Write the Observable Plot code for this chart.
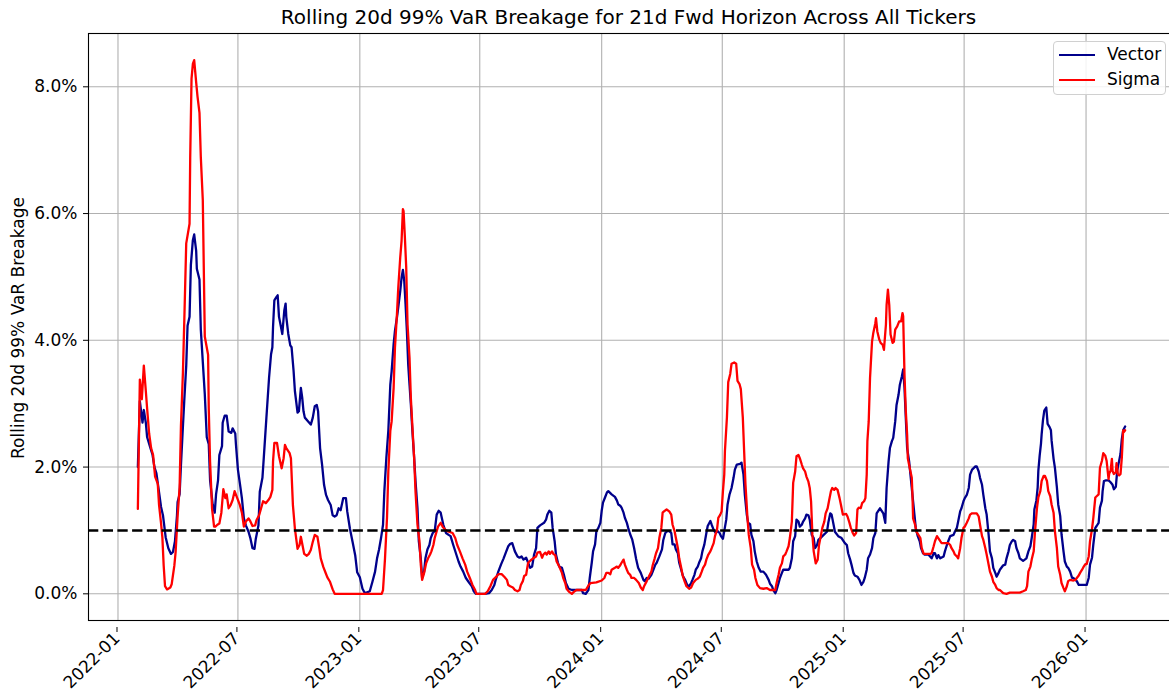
<!DOCTYPE html>
<html>
<head>
<meta charset="utf-8">
<script src="https://cdn.jsdelivr.net/npm/d3@7"></script>
<script src="https://cdn.jsdelivr.net/npm/@observablehq/plot@0.6"></script>
<style>
  body { margin: 0; background: #fff; font-family: "DejaVu Sans", sans-serif; }
  #wrap { position: relative; width: 1169px; height: 694px; overflow: hidden; background: #fff; }
  #title { position: absolute; left: 88px; width: 1081px; top: 5px; text-align: center; font-size: 20px; line-height: 24px; color: #000; white-space: nowrap; }
  #chart { position: absolute; left: 0; top: 28px; width: 1176px; height: 666px; }
  #chart svg { max-width: none !important; display: block; }
  #ylabel { position: absolute; left: -182px; top: 318px; width: 400px; height: 20px; line-height: 20px; text-align: center; font-size: 17px; color: #000; transform: rotate(-90deg); transform-origin: 200px 10px; white-space: nowrap; }
  #legend { position: absolute; left: 1053px; top: 41px; width: 111px; height: 52px; border: 1px solid #d0d0d0; border-radius: 4px; background: rgba(255,255,255,0.85); font-size: 17px; color: #000; }
  .swatch { position: absolute; left: 5px; width: 36px; height: 0; border-top: 2.2px solid; }
  .lab { position: absolute; left: 53px; height: 20px; line-height: 20px; white-space: nowrap; }
</style>
</head>
<body>
<div id="wrap">
  <div id="title"></div>
  <div id="chart"></div>
  <div id="ylabel"></div>
  <div id="legend"></div>
</div>
<script>
const titleText = "Rolling 20d 99% VaR Breakage for 21d Fwd Horizon Across All Tickers";
const yLabelText = "Rolling 20d 99% VaR Breakage";
const seriesNames = ["Vector", "Sigma"];
const seriesColors = ["#00008b", "#ff0000"];
const xTickLabels = ["2022-01", "2022-07", "2023-01", "2023-07", "2024-01", "2024-07", "2025-01", "2025-07", "2026-01"];
const yTickValues = [0, 2, 4, 6, 8];
const thresholdValue = 1;

// Vector: [date, breakage %]
const vectorSeries = [
["2022-01-31",2.00],["2022-02-03",3.04],["2022-02-07",2.70],["2022-02-09",2.90],["2022-02-12",2.70],["2022-02-14",2.47],["2022-02-19",2.30],["2022-02-22",2.20],["2022-02-25",2.00],["2022-02-28",1.90],
["2022-03-04",1.60],["2022-03-07",1.37],["2022-03-10",1.23],["2022-03-12",1.06],["2022-03-14",0.89],["2022-03-18",0.72],["2022-03-22",0.63],["2022-03-25",0.66],["2022-03-28",0.83],["2022-03-31",1.23],
["2022-04-01",1.45],["2022-04-04",1.57],["2022-04-06",2.02],["2022-04-09",2.64],["2022-04-11",3.04],["2022-04-14",3.60],["2022-04-16",4.23],["2022-04-19",4.37],["2022-04-21",5.19],["2022-04-24",5.58],
["2022-04-26",5.67],["2022-04-29",5.41],["2022-04-30",5.13],["2022-05-04",4.96],["2022-05-06",4.17],["2022-05-09",3.66],["2022-05-12",3.15],["2022-05-15",2.47],["2022-05-18",2.36],["2022-05-20",1.79],
["2022-05-24",1.40],["2022-05-27",1.28],["2022-05-29",1.57],["2022-06-01",1.79],["2022-06-03",2.19],["2022-06-07",2.33],["2022-06-08",2.70],["2022-06-11",2.81],["2022-06-14",2.81],["2022-06-17",2.56],
["2022-06-21",2.54],["2022-06-23",2.61],["2022-06-27",2.53],["2022-06-28",2.36],["2022-07-01",1.96],["2022-07-04",1.74],["2022-07-07",1.51],["2022-07-10",1.19],["2022-07-13",1.08],["2022-07-17",0.98],
["2022-07-20",0.87],["2022-07-23",0.72],["2022-07-26",0.71],["2022-07-28",0.87],["2022-08-01",1.08],["2022-08-03",1.61],["2022-08-07",1.83],["2022-08-09",2.14],["2022-08-11",2.46],["2022-08-13",2.78],
["2022-08-17",3.41],["2022-08-20",3.78],["2022-08-22",3.89],["2022-08-23",4.21],["2022-08-25",4.63],["2022-08-28",4.68],["2022-08-30",4.71],["2022-09-01",4.37],["2022-09-04",4.21],["2022-09-06",4.10],
["2022-09-09",4.47],["2022-09-11",4.58],["2022-09-12",4.37],["2022-09-15",4.10],["2022-09-18",3.92],["2022-09-20",3.89],["2022-09-23",3.52],["2022-09-25",3.20],["2022-09-29",2.86],["2022-10-01",2.88],
["2022-10-04",3.25],["2022-10-06",3.10],["2022-10-08",2.88],["2022-10-10",2.78],["2022-10-15",2.72],["2022-10-19",2.67],["2022-10-22",2.78],["2022-10-25",2.96],["2022-10-28",2.98],["2022-10-30",2.88],
["2022-11-02",2.30],["2022-11-05",2.04],["2022-11-08",1.72],["2022-11-11",1.56],["2022-11-14",1.48],["2022-11-18",1.40],["2022-11-21",1.24],["2022-11-24",1.22],["2022-11-27",1.24],["2022-11-30",1.35],
["2022-12-03",1.32],["2022-12-07",1.51],["2022-12-11",1.51],["2022-12-13",1.30],["2022-12-17",1.03],["2022-12-21",0.82],["2022-12-25",0.61],["2022-12-28",0.34],["2023-01-01",0.26],["2023-01-05",0.08],
["2023-01-08",0.02],["2023-01-11",0.02],["2023-01-16",0.04],["2023-01-20",0.19],["2023-01-24",0.35],["2023-01-27",0.56],["2023-01-30",0.70],["2023-02-02",0.88],["2023-02-05",1.09],["2023-02-07",1.62],
["2023-02-10",2.14],["2023-02-13",2.57],["2023-02-16",3.30],["2023-02-18",3.51],["2023-02-21",3.94],["2023-02-23",4.15],["2023-02-26",4.36],["2023-02-28",4.52],["2023-03-03",4.78],["2023-03-05",4.99],
["2023-03-07",5.11],["2023-03-09",4.94],["2023-03-11",4.57],["2023-03-13",4.15],["2023-03-15",3.62],["2023-03-17",3.30],["2023-03-19",2.99],["2023-03-21",2.62],["2023-03-24",2.14],["2023-03-26",1.78],
["2023-03-29",1.35],["2023-03-31",0.83],["2023-04-03",0.56],["2023-04-05",0.25],["2023-04-08",0.35],["2023-04-10",0.56],["2023-04-13",0.70],["2023-04-16",0.77],["2023-04-18",0.88],["2023-04-21",0.96],
["2023-04-24",0.99],["2023-04-27",1.25],["2023-04-30",1.31],["2023-05-03",1.28],["2023-05-07",1.09],["2023-05-11",0.96],["2023-05-15",0.93],["2023-05-18",0.91],["2023-05-22",0.77],["2023-05-26",0.64],
["2023-05-30",0.51],["2023-06-02",0.43],["2023-06-06",0.35],["2023-06-10",0.25],["2023-06-14",0.19],["2023-06-19",0.12],["2023-06-22",0.04],["2023-06-25",0.00],["2023-07-09",0.00],["2023-07-15",0.01],
["2023-07-19",0.06],["2023-07-23",0.14],["2023-07-25",0.22],["2023-07-29",0.35],["2023-08-02",0.46],["2023-08-06",0.56],["2023-08-10",0.67],["2023-08-13",0.75],["2023-08-16",0.79],["2023-08-19",0.80],
["2023-08-23",0.67],["2023-08-27",0.59],["2023-08-30",0.57],["2023-09-02",0.59],["2023-09-05",0.54],["2023-09-09",0.57],["2023-09-12",0.49],["2023-09-15",0.41],["2023-09-18",0.43],["2023-09-21",0.62],
["2023-09-24",0.72],["2023-09-26",1.04],["2023-09-30",1.08],["2023-10-06",1.12],["2023-10-09",1.17],["2023-10-11",1.25],["2023-10-14",1.31],["2023-10-17",1.28],["2023-10-19",1.04],["2023-10-22",0.83],
["2023-10-24",0.62],["2023-10-27",0.49],["2023-10-29",0.43],["2023-11-02",0.41],["2023-11-05",0.30],["2023-11-08",0.17],["2023-11-12",0.08],["2023-11-17",0.06],["2023-12-02",0.06],["2023-12-04",0.01],
["2023-12-08",0.00],["2023-12-12",0.06],["2023-12-14",0.25],["2023-12-17",0.49],["2023-12-19",0.67],["2023-12-22",0.78],["2023-12-24",0.99],["2023-12-27",1.04],["2023-12-30",1.12],["2024-01-01",1.31],
["2024-01-03",1.44],["2024-01-06",1.52],["2024-01-09",1.60],["2024-01-11",1.62],["2024-01-16",1.57],["2024-01-21",1.53],["2024-01-24",1.47],["2024-01-26",1.41],["2024-01-29",1.39],["2024-01-31",1.36],
["2024-02-03",1.28],["2024-02-05",1.20],["2024-02-08",1.12],["2024-02-10",1.04],["2024-02-13",0.94],["2024-02-16",0.86],["2024-02-19",0.72],["2024-02-22",0.55],["2024-02-25",0.41],["2024-02-29",0.33],
["2024-03-04",0.22],["2024-03-06",0.20],["2024-03-09",0.25],["2024-03-12",0.24],["2024-03-16",0.30],["2024-03-18",0.35],["2024-03-22",0.46],["2024-03-24",0.49],["2024-03-28",0.59],["2024-04-01",0.70],
["2024-04-03",0.85],["2024-04-06",0.96],["2024-04-09",0.99],["2024-04-12",0.99],["2024-04-15",0.96],["2024-04-17",0.78],["2024-04-20",0.78],["2024-04-22",0.70],["2024-04-25",0.64],["2024-04-27",0.49],
["2024-04-30",0.38],["2024-05-03",0.27],["2024-05-06",0.22],["2024-05-09",0.14],["2024-05-12",0.12],["2024-05-15",0.17],["2024-05-17",0.22],["2024-05-20",0.30],["2024-05-22",0.38],["2024-05-25",0.43],
["2024-05-27",0.49],["2024-05-30",0.56],["2024-06-01",0.67],["2024-06-04",0.78],["2024-06-07",0.96],["2024-06-09",1.07],["2024-06-13",1.15],["2024-06-15",1.09],["2024-06-18",1.01],["2024-06-21",0.96],
["2024-06-24",0.99],["2024-06-27",0.96],["2024-06-29",0.91],["2024-07-02",0.87],["2024-07-04",0.99],["2024-07-07",1.17],["2024-07-09",1.41],["2024-07-12",1.57],["2024-07-15",1.67],["2024-07-18",1.83],
["2024-07-20",1.96],["2024-07-23",2.04],["2024-07-28",2.05],["2024-07-30",2.07],["2024-08-02",1.88],["2024-08-04",1.57],["2024-08-07",1.25],["2024-08-09",1.12],["2024-08-12",1.10],["2024-08-14",0.93],
["2024-08-17",0.83],["2024-08-19",0.67],["2024-08-22",0.51],["2024-08-25",0.41],["2024-08-28",0.35],["2024-09-01",0.35],["2024-09-05",0.30],["2024-09-09",0.22],["2024-09-11",0.16],["2024-09-14",0.12],
["2024-09-16",0.06],["2024-09-19",0.01],["2024-09-21",0.06],["2024-09-24",0.17],["2024-09-26",0.25],["2024-09-29",0.33],["2024-10-01",0.38],["2024-10-09",0.38],["2024-10-11",0.41],["2024-10-14",0.56],
["2024-10-16",0.83],["2024-10-19",0.91],["2024-10-21",1.17],["2024-10-24",1.14],["2024-10-26",1.06],["2024-10-29",1.09],["2024-10-31",1.14],["2024-11-03",1.19],["2024-11-05",1.25],["2024-11-08",1.24],
["2024-11-10",1.17],["2024-11-13",0.93],["2024-11-16",0.88],["2024-11-18",0.72],["2024-11-21",0.77],["2024-11-23",0.85],["2024-11-26",0.88],["2024-12-01",0.93],["2024-12-06",0.98],["2024-12-08",1.12],
["2024-12-11",1.27],["2024-12-13",1.25],["2024-12-16",1.09],["2024-12-18",0.98],["2024-12-23",0.91],["2024-12-28",0.88],["2024-12-31",0.83],["2025-01-02",0.80],["2025-01-05",0.77],["2025-01-07",0.64],
["2025-01-10",0.54],["2025-01-12",0.46],["2025-01-15",0.33],["2025-01-17",0.29],["2025-01-21",0.27],["2025-01-24",0.22],["2025-01-27",0.14],["2025-01-30",0.19],["2025-02-01",0.25],["2025-02-04",0.38],
["2025-02-06",0.56],["2025-02-09",0.62],["2025-02-12",0.72],["2025-02-14",0.88],["2025-02-17",0.96],["2025-02-19",1.27],["2025-02-24",1.35],["2025-03-01",1.27],["2025-03-04",1.12],["2025-03-06",1.67],
["2025-03-09",2.09],["2025-03-11",2.30],["2025-03-14",2.41],["2025-03-16",2.46],["2025-03-19",2.72],["2025-03-21",2.98],["2025-03-24",3.14],["2025-03-26",3.30],["2025-03-29",3.43],["2025-03-31",3.54],
["2025-04-02",3.25],["2025-04-04",2.77],["2025-04-06",2.30],["2025-04-09",2.09],["2025-04-11",1.88],["2025-04-14",1.56],["2025-04-17",1.25],["2025-04-19",1.04],["2025-04-22",0.91],["2025-04-25",0.83],
["2025-04-27",0.72],["2025-04-30",0.64],["2025-05-02",0.62],["2025-05-08",0.62],["2025-05-13",0.56],["2025-05-16",0.64],["2025-05-18",0.64],["2025-05-21",0.56],["2025-05-23",0.61],["2025-05-26",0.56],
["2025-05-31",0.59],["2025-06-02",0.67],["2025-06-05",0.77],["2025-06-07",0.83],["2025-06-10",0.91],["2025-06-15",0.93],["2025-06-17",0.98],["2025-06-20",1.04],["2025-06-22",1.14],["2025-06-25",1.30],
["2025-06-27",1.35],["2025-06-30",1.46],["2025-07-02",1.51],["2025-07-05",1.56],["2025-07-08",1.67],["2025-07-10",1.88],["2025-07-13",1.96],["2025-07-15",1.98],["2025-07-18",2.01],["2025-07-20",2.01],
["2025-07-23",1.93],["2025-07-25",1.83],["2025-07-28",1.72],["2025-07-30",1.56],["2025-08-02",1.35],["2025-08-04",1.25],["2025-08-07",0.93],["2025-08-09",0.67],["2025-08-12",0.56],["2025-08-14",0.41],
["2025-08-17",0.33],["2025-08-19",0.27],["2025-08-22",0.33],["2025-08-24",0.38],["2025-08-29",0.45],["2025-09-01",0.46],["2025-09-03",0.56],["2025-09-06",0.67],["2025-09-08",0.77],["2025-09-11",0.83],
["2025-09-13",0.85],["2025-09-16",0.83],["2025-09-18",0.72],["2025-09-21",0.64],["2025-09-23",0.56],["2025-09-28",0.52],["2025-10-03",0.56],["2025-10-06",0.67],["2025-10-09",0.75],["2025-10-11",0.88],
["2025-10-14",1.10],["2025-10-15",1.33],["2025-10-18",1.47],["2025-10-20",1.68],["2025-10-21",1.94],["2025-10-23",2.18],["2025-10-25",2.37],["2025-10-26",2.52],["2025-10-28",2.74],["2025-10-30",2.89],
["2025-11-02",2.94],["2025-11-04",2.68],["2025-11-07",2.63],["2025-11-09",2.58],["2025-11-10",2.42],["2025-11-13",2.13],["2025-11-15",1.99],["2025-11-18",1.68],["2025-11-20",1.41],["2025-11-23",1.23],
["2025-11-25",0.94],["2025-11-28",0.67],["2025-11-30",0.51],["2025-12-03",0.43],["2025-12-05",0.41],["2025-12-08",0.35],["2025-12-11",0.25],["2025-12-13",0.25],["2025-12-16",0.22],["2025-12-18",0.20],
["2025-12-21",0.14],["2026-01-02",0.14],["2026-01-05",0.25],["2026-01-07",0.46],["2026-01-10",0.57],["2026-01-12",0.78],["2026-01-15",1.04],["2026-01-17",1.07],["2026-01-20",1.12],["2026-01-22",1.36],
["2026-01-25",1.47],["2026-01-26",1.62],["2026-01-28",1.78],["2026-01-31",1.79],["2026-02-04",1.79],["2026-02-07",1.76],["2026-02-10",1.72],["2026-02-12",1.65],["2026-02-15",1.69],["2026-02-17",1.94],
["2026-02-19",2.05],["2026-02-20",2.10],["2026-02-22",2.21],["2026-02-24",2.44],["2026-02-26",2.58],["2026-03-01",2.64]
];

// Sigma: [date, breakage %]
const sigmaSeries = [
["2022-01-31",1.34],["2022-02-03",3.38],["2022-02-06",3.07],["2022-02-09",3.60],["2022-02-12",3.20],["2022-02-14",2.92],["2022-02-17",2.53],["2022-02-20",2.30],["2022-02-23",2.19],["2022-02-26",1.85],
["2022-03-02",1.74],["2022-03-04",1.40],["2022-03-07",1.11],["2022-03-09",0.89],["2022-03-11",0.44],["2022-03-13",0.12],["2022-03-16",0.07],["2022-03-21",0.10],["2022-03-23",0.15],["2022-03-27",0.44],
["2022-03-29",0.66],["2022-04-01",1.23],["2022-04-04",1.68],["2022-04-06",2.64],["2022-04-09",3.49],["2022-04-11",4.28],["2022-04-14",5.53],["2022-04-19",5.84],["2022-04-20",6.89],["2022-04-22",8.13],
["2022-04-24",8.36],["2022-04-26",8.42],["2022-04-29",8.07],["2022-05-01",7.85],["2022-05-04",7.59],["2022-05-06",6.89],["2022-05-09",6.21],["2022-05-12",4.06],["2022-05-17",3.77],["2022-05-18",2.92],
["2022-05-20",2.08],["2022-05-23",1.34],["2022-05-26",1.06],["2022-05-28",1.06],["2022-05-31",1.09],["2022-06-03",1.11],["2022-06-06",1.28],["2022-06-09",1.65],["2022-06-12",1.51],["2022-06-14",1.57],
["2022-06-17",1.35],["2022-06-20",1.40],["2022-06-23",1.48],["2022-06-26",1.62],["2022-06-30",1.51],["2022-07-04",1.40],["2022-07-07",1.28],["2022-07-10",1.06],["2022-07-13",1.14],["2022-07-17",1.19],
["2022-07-19",1.16],["2022-07-23",1.07],["2022-07-27",1.08],["2022-07-29",1.16],["2022-08-02",1.24],["2022-08-05",1.35],["2022-08-08",1.46],["2022-08-12",1.43],["2022-08-16",1.48],["2022-08-19",1.53],
["2022-08-22",1.64],["2022-08-23",2.09],["2022-08-25",2.38],["2022-08-29",2.38],["2022-09-01",2.17],["2022-09-05",1.98],["2022-09-08",2.14],["2022-09-10",2.35],["2022-09-12",2.30],["2022-09-17",2.22],
["2022-09-19",2.14],["2022-09-22",1.40],["2022-09-25",1.03],["2022-09-29",0.71],["2022-10-02",0.77],["2022-10-04",0.90],["2022-10-07",0.74],["2022-10-09",0.63],["2022-10-13",0.60],["2022-10-16",0.63],
["2022-10-19",0.69],["2022-10-22",0.82],["2022-10-25",0.93],["2022-10-29",0.90],["2022-11-01",0.71],["2022-11-03",0.56],["2022-11-07",0.42],["2022-11-10",0.34],["2022-11-13",0.26],["2022-11-17",0.19],
["2022-11-21",0.07],["2022-11-24",0.00],["2023-02-03",0.00],["2023-02-05",0.06],["2023-02-08",0.56],["2023-02-11",1.20],["2023-02-13",1.93],["2023-02-16",2.57],["2023-02-18",2.72],["2023-02-21",3.25],
["2023-02-23",3.88],["2023-02-26",4.41],["2023-02-28",4.83],["2023-03-03",5.31],["2023-03-05",5.57],["2023-03-07",6.07],["2023-03-08",6.04],["2023-03-10",5.62],["2023-03-12",5.15],["2023-03-14",4.25],
["2023-03-17",3.72],["2023-03-19",3.09],["2023-03-22",2.51],["2023-03-24",2.14],["2023-03-26",1.62],["2023-03-29",1.09],["2023-04-01",0.83],["2023-04-03",0.46],["2023-04-05",0.22],["2023-04-08",0.33],
["2023-04-11",0.48],["2023-04-14",0.56],["2023-04-17",0.62],["2023-04-19",0.67],["2023-04-22",0.77],["2023-04-24",0.88],["2023-04-27",0.99],["2023-04-29",1.06],["2023-05-03",1.12],["2023-05-06",1.06],
["2023-05-10",1.01],["2023-05-13",0.99],["2023-05-21",0.96],["2023-05-25",0.88],["2023-05-28",0.77],["2023-06-01",0.67],["2023-06-05",0.56],["2023-06-09",0.46],["2023-06-12",0.35],["2023-06-16",0.25],
["2023-06-20",0.14],["2023-06-24",0.06],["2023-06-26",0.00],["2023-07-09",0.00],["2023-07-13",0.04],["2023-07-17",0.12],["2023-07-21",0.22],["2023-07-26",0.27],["2023-07-29",0.31],["2023-08-03",0.31],
["2023-08-07",0.27],["2023-08-11",0.22],["2023-08-13",0.14],["2023-08-16",0.12],["2023-08-20",0.10],["2023-08-23",0.06],["2023-08-27",0.04],["2023-08-30",0.06],["2023-09-01",0.14],["2023-09-04",0.20],
["2023-09-06",0.28],["2023-09-09",0.30],["2023-09-12",0.49],["2023-09-17",0.54],["2023-09-21",0.57],["2023-09-24",0.59],["2023-09-26",0.65],["2023-09-30",0.66],["2023-10-03",0.57],["2023-10-05",0.62],
["2023-10-08",0.65],["2023-10-10",0.62],["2023-10-13",0.67],["2023-10-15",0.63],["2023-10-18",0.67],["2023-10-20",0.63],["2023-10-23",0.61],["2023-10-25",0.51],["2023-10-29",0.43],["2023-11-02",0.33],
["2023-11-04",0.25],["2023-11-07",0.17],["2023-11-09",0.08],["2023-11-13",0.03],["2023-11-17",0.00],["2023-11-20",0.03],["2023-11-24",0.06],["2023-12-08",0.06],["2023-12-12",0.13],["2023-12-15",0.17],
["2023-12-24",0.18],["2024-01-01",0.21],["2024-01-05",0.25],["2024-01-08",0.33],["2024-01-11",0.33],["2024-01-14",0.31],["2024-01-16",0.38],["2024-01-21",0.41],["2024-01-24",0.43],["2024-01-26",0.41],
["2024-01-29",0.45],["2024-01-31",0.49],["2024-02-03",0.54],["2024-02-05",0.46],["2024-02-08",0.38],["2024-02-10",0.33],["2024-02-13",0.30],["2024-02-15",0.25],["2024-02-19",0.25],["2024-02-22",0.22],
["2024-02-26",0.17],["2024-02-29",0.10],["2024-03-03",0.06],["2024-03-05",0.12],["2024-03-09",0.20],["2024-03-12",0.27],["2024-03-16",0.35],["2024-03-18",0.45],["2024-03-21",0.56],["2024-03-23",0.64],
["2024-03-26",0.72],["2024-03-28",0.88],["2024-03-31",1.04],["2024-04-02",1.28],["2024-04-04",1.30],["2024-04-08",1.33],["2024-04-12",1.30],["2024-04-15",1.25],["2024-04-17",1.09],["2024-04-20",0.99],
["2024-04-22",0.88],["2024-04-25",0.72],["2024-04-27",0.56],["2024-04-30",0.41],["2024-05-02",0.30],["2024-05-05",0.20],["2024-05-08",0.12],["2024-05-12",0.08],["2024-05-15",0.10],["2024-05-18",0.17],
["2024-05-22",0.22],["2024-05-25",0.24],["2024-05-28",0.27],["2024-05-31",0.35],["2024-06-02",0.41],["2024-06-05",0.46],["2024-06-07",0.54],["2024-06-10",0.62],["2024-06-13",0.67],["2024-06-15",0.72],
["2024-06-18",0.80],["2024-06-20",0.91],["2024-06-23",1.01],["2024-06-25",1.20],["2024-06-28",1.25],["2024-06-30",1.30],["2024-07-02",1.62],["2024-07-04",1.88],["2024-07-05",2.25],["2024-07-08",2.78],
["2024-07-10",3.34],["2024-07-13",3.47],["2024-07-15",3.63],["2024-07-19",3.65],["2024-07-22",3.63],["2024-07-24",3.36],["2024-07-27",3.31],["2024-07-29",3.23],["2024-08-01",2.78],["2024-08-03",2.25],
["2024-08-05",1.73],["2024-08-08",1.20],["2024-08-10",0.93],["2024-08-13",0.72],["2024-08-15",0.46],["2024-08-18",0.38],["2024-08-20",0.25],["2024-08-23",0.14],["2024-08-27",0.09],["2024-09-01",0.08],
["2024-09-06",0.09],["2024-09-11",0.06],["2024-09-15",0.06],["2024-09-19",0.06],["2024-09-21",0.17],["2024-09-24",0.30],["2024-09-26",0.41],["2024-09-29",0.48],["2024-10-01",0.59],["2024-10-04",0.62],
["2024-10-06",0.67],["2024-10-09",0.75],["2024-10-11",0.88],["2024-10-14",1.14],["2024-10-16",1.75],["2024-10-19",1.93],["2024-10-21",2.17],["2024-10-24",2.19],["2024-10-26",2.14],["2024-10-29",2.04],
["2024-10-31",1.98],["2024-11-03",1.93],["2024-11-05",1.85],["2024-11-08",1.77],["2024-11-10",1.67],["2024-11-12",1.46],["2024-11-14",0.93],["2024-11-16",0.67],["2024-11-19",0.48],["2024-11-22",0.54],
["2024-11-24",0.77],["2024-11-27",0.93],["2024-11-29",1.04],["2024-12-02",1.14],["2024-12-04",1.27],["2024-12-07",1.35],["2024-12-09",1.46],["2024-12-12",1.62],["2024-12-14",1.67],["2024-12-17",1.64],
["2024-12-19",1.67],["2024-12-22",1.64],["2024-12-25",1.51],["2024-12-27",1.41],["2024-12-30",1.25],["2025-01-04",1.26],["2025-01-06",1.22],["2025-01-09",1.12],["2025-01-11",1.04],["2025-01-14",0.96],
["2025-01-16",0.92],["2025-01-19",0.96],["2025-01-21",1.33],["2025-01-23",1.36],["2025-01-26",1.35],["2025-01-28",1.43],["2025-01-31",1.46],["2025-02-02",1.51],["2025-02-04",1.88],["2025-02-05",2.41],
["2025-02-07",2.72],["2025-02-09",3.41],["2025-02-12",3.98],["2025-02-14",4.12],["2025-02-17",4.27],["2025-02-18",4.35],["2025-02-20",4.14],["2025-02-23",4.01],["2025-02-25",3.96],["2025-02-28",3.93],
["2025-03-02",3.85],["2025-03-05",4.25],["2025-03-06",4.56],["2025-03-08",4.80],["2025-03-10",4.56],["2025-03-12",4.09],["2025-03-15",3.96],["2025-03-17",3.98],["2025-03-19",4.17],["2025-03-22",4.22],
["2025-03-25",4.30],["2025-03-28",4.30],["2025-03-30",4.43],["2025-03-31",4.38],["2025-04-02",3.46],["2025-04-04",2.88],["2025-04-06",2.51],["2025-04-07",2.14],["2025-04-10",1.98],["2025-04-13",1.83],
["2025-04-14",1.56],["2025-04-15",1.19],["2025-04-18",1.09],["2025-04-20",0.98],["2025-04-23",0.93],["2025-04-26",0.88],["2025-04-28",0.72],["2025-05-01",0.63],["2025-05-11",0.63],["2025-05-13",0.64],
["2025-05-16",0.75],["2025-05-18",0.83],["2025-05-21",0.91],["2025-05-23",0.88],["2025-05-26",0.83],["2025-05-28",0.80],["2025-06-07",0.80],["2025-06-10",0.77],["2025-06-12",0.72],["2025-06-15",0.67],
["2025-06-17",0.62],["2025-06-20",0.59],["2025-06-22",0.56],["2025-06-25",0.72],["2025-06-27",0.88],["2025-06-30",1.04],["2025-07-02",1.06],["2025-07-05",1.12],["2025-07-08",1.19],["2025-07-10",1.25],
["2025-07-13",1.27],["2025-07-20",1.27],["2025-07-23",1.22],["2025-07-25",1.09],["2025-07-28",0.91],["2025-07-30",0.85],["2025-08-02",0.72],["2025-08-04",0.62],["2025-08-07",0.46],["2025-08-09",0.35],
["2025-08-12",0.27],["2025-08-14",0.19],["2025-08-17",0.14],["2025-08-19",0.09],["2025-08-22",0.06],["2025-08-24",0.06],["2025-08-29",0.01],["2025-09-03",0.00],["2025-09-08",0.02],["2025-09-23",0.02],
["2025-09-28",0.04],["2025-10-02",0.06],["2025-10-04",0.12],["2025-10-06",0.35],["2025-10-09",0.43],["2025-10-11",0.54],["2025-10-14",0.67],["2025-10-16",0.99],["2025-10-19",1.36],["2025-10-21",1.52],
["2025-10-24",1.62],["2025-10-26",1.78],["2025-10-29",1.86],["2025-10-31",1.86],["2025-11-03",1.78],["2025-11-05",1.62],["2025-11-08",1.54],["2025-11-10",1.41],["2025-11-13",1.28],["2025-11-15",0.99],
["2025-11-18",0.72],["2025-11-20",0.43],["2025-11-23",0.30],["2025-11-25",0.17],["2025-11-28",0.09],["2025-11-30",0.04],["2025-12-03",0.12],["2025-12-05",0.20],["2025-12-08",0.22],["2025-12-13",0.21],
["2025-12-16",0.22],["2025-12-18",0.25],["2025-12-21",0.29],["2025-12-23",0.33],["2025-12-26",0.38],["2025-12-28",0.42],["2025-12-31",0.47],["2026-01-02",0.47],["2026-01-05",0.59],["2026-01-07",0.83],
["2026-01-10",1.02],["2026-01-12",1.20],["2026-01-15",1.52],["2026-01-17",1.54],["2026-01-20",1.57],["2026-01-22",1.99],["2026-01-25",2.10],["2026-01-27",2.22],["2026-01-30",2.18],["2026-02-01",2.10],
["2026-02-04",1.81],["2026-02-05",1.90],["2026-02-07",1.94],["2026-02-09",2.13],["2026-02-10",1.94],["2026-02-12",1.89],["2026-02-15",1.92],["2026-02-16",2.06],["2026-02-18",1.89],["2026-02-20",1.87],
["2026-02-22",1.89],["2026-02-24",2.15],["2026-02-26",2.58],["2026-02-27",2.55],["2026-03-01",2.58]
];

// Build tidy table from the arrays
const rows = [];
[vectorSeries, sigmaSeries].forEach((s, i) => {
  for (const [d, v] of s) rows.push({date: new Date(d), value: v, series: seriesNames[i]});
});

// matplotlib-style 5% margins
const tExt = d3.extent(rows, d => d.date);
const tPad = (tExt[1] - tExt[0]) * 0.05;
const vMax = d3.max(rows, d => d.value), vMin = d3.min(rows, d => d.value);
const vPad = (vMax - vMin) * 0.05;

const xTicks = xTickLabels.map(s => new Date(s + "-01"));
const fmt = d3.utcFormat("%Y-%m");

const chart = Plot.plot({
  width: 1176,
  height: 666,
  marginTop: 5,
  marginBottom: 74,
  marginLeft: 88,
  marginRight: 2,
  style: {fontFamily: "DejaVu Sans", fontSize: "17px", color: "#000", background: "transparent", overflow: "visible", maxWidth: "none"},
  x: {type: "utc", domain: [new Date(+tExt[0] - tPad), new Date(+tExt[1] + tPad)]},
  y: {domain: [vMin - vPad, vMax + vPad]},
  color: {domain: seriesNames, range: seriesColors},
  marks: [
    Plot.gridX(xTicks, {stroke: "#b0b0b0", strokeOpacity: 1, strokeWidth: 1.1}),
    Plot.gridY(yTickValues, {stroke: "#b0b0b0", strokeOpacity: 1, strokeWidth: 1.1}),
    Plot.lineY(rows, {x: "date", y: "value", z: "series", stroke: "series", strokeWidth: 2.3, curve: "linear"}),
    Plot.ruleY([thresholdValue], {stroke: "#000", strokeWidth: 2.5, strokeDasharray: "10.3,4.4"}),
    Plot.frame({stroke: "#000", strokeWidth: 1.1}),
    Plot.axisY(yTickValues, {tickFormat: d => d.toFixed(1) + "%", tickSize: 5, tickPadding: 6, fontSize: 17, label: null}),
    Plot.axisX(xTicks, {tickFormat: fmt, tickSize: 5, tickPadding: 3, tickRotate: -45, textAnchor: "end", fontSize: 17, dx: -1, dy: 7, label: null})
  ]
});
document.getElementById("chart").appendChild(chart);
document.getElementById("title").textContent = titleText;
document.getElementById("ylabel").textContent = yLabelText;

const legend = document.getElementById("legend");
seriesNames.forEach((name, i) => {
  const top = 12 + i * 25;
  const sw = document.createElement("div");
  sw.className = "swatch";
  sw.style.top = top + "px";
  sw.style.borderTopColor = seriesColors[i];
  legend.appendChild(sw);
  const lab = document.createElement("div");
  lab.className = "lab";
  lab.style.top = (top - 10) + "px";
  lab.textContent = name;
  legend.appendChild(lab);
});
</script>
</body>
</html>
